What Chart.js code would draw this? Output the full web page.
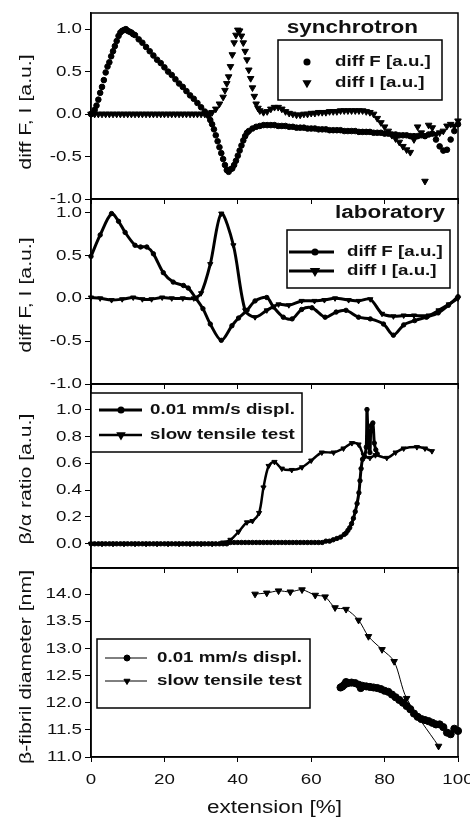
<!DOCTYPE html>
<html>
<head>
<meta charset="utf-8">
<script src="https://cdn.jsdelivr.net/npm/chart.js@4.4.1/dist/chart.umd.min.js"></script>
<style>
  body { margin: 0; background: #fff; }
  #wrap { position: relative; width: 470px; height: 819px; overflow: hidden; }
  .panel { position: absolute; left: 0; width: 470px; }
</style>
</head>
<body>
<div id="wrap">
  <div class="panel" style="top:0px"><canvas id="p1" width="470" height="211"></canvas></div>
  <div class="panel" style="top:187px"><canvas id="p2" width="470" height="209"></canvas></div>
  <div class="panel" style="top:372px"><canvas id="p3" width="470" height="208"></canvas></div>
  <div class="panel" style="top:556px"><canvas id="p4" width="470" height="263"></canvas></div>
</div>
<script>
// shared x axis
const xTicks = [0, 20, 40, 60, 80, 100];

// panel 1 - synchrotron
const synTicks = [-1.0, -0.5, 0.0, 0.5, 1.0];
const synDiffF = [
  [0,0],[0.5,0.01],[1,0.05],[1.5,0.1],[2,0.17],[2.5,0.25],[3,0.32],[3.5,0.4],[4,0.49],[4.5,0.56],
  [5,0.61],[5.5,0.68],[6,0.74],[6.5,0.8],[7,0.86],[7.5,0.92],[8,0.96],[8.5,0.98],[9,0.99],[9.5,1.0],
  [10,0.98],[10.5,0.97],[11,0.96],[11.5,0.94],[12,0.93],[13,0.88],[14,0.84],[15,0.79],[16,0.74],[17,0.69],
  [18,0.64],[19,0.6],[20,0.55],[21,0.5],[22,0.46],[23,0.41],[24,0.36],[25,0.32],[26,0.27],[27,0.22],
  [28,0.18],[29,0.13],[30,0.08],[31,0.03],[32,-0.02],[32.5,-0.07],[33,-0.12],[33.5,-0.18],[34,-0.25],[34.5,-0.32],
  [35,-0.39],[35.5,-0.46],[36,-0.53],[36.5,-0.6],[37,-0.66],[37.5,-0.68],[38,-0.65],[38.5,-0.64],[39,-0.6],[39.5,-0.55],
  [40,-0.49],[40.5,-0.43],[41,-0.37],[41.5,-0.31],[42,-0.26],[42.5,-0.22],[43,-0.2],[44,-0.17],[45,-0.15],[46,-0.14],
  [47,-0.13],[48,-0.13],[49,-0.13],[50,-0.13],[51,-0.14],[52,-0.14],[53,-0.14],[54,-0.15],[55,-0.15],[56,-0.16],
  [57,-0.16],[58,-0.16],[59,-0.17],[60,-0.17],[61,-0.17],[62,-0.18],[63,-0.18],[64,-0.18],[65,-0.19],[66,-0.19],
  [67,-0.19],[68,-0.19],[69,-0.2],[70,-0.2],[71,-0.2],[72,-0.2],[73,-0.21],[74,-0.21],[75,-0.21],[76,-0.21],
  [77,-0.22],[78,-0.22],[79,-0.22],[80,-0.23],[81,-0.23],[82,-0.24],[83,-0.24],[84,-0.25],[85,-0.25],[86,-0.25],
  [87,-0.26],[88,-0.26],[89,-0.26],[90,-0.25],[91,-0.26],[92,-0.24],[93,-0.23],[94,-0.3],[95,-0.38],[96,-0.43],
  [97,-0.42],[98,-0.3],[99,-0.2],[100,-0.12]
];
const synDiffI = [
  [0,0],[1,0],[2,0],[3,0],[4,0],[5,0],[6,0],[7,0],[8,0],[9,0],[10,0],[11,0],[12,0],[13,0],[14,0],[15,0],
  [16,0],[17,0],[18,0],[19,0],[20,0],[21,0],[22,0],[23,0],[24,0],[25,0],[26,0],[27,0],[28,0],[29,0],[30,0],[31,0],
  [32,0.01],[33,0.02],[34,0.06],[35,0.12],[36,0.2],[36.5,0.28],[37,0.36],[37.5,0.44],[38,0.56],[38.5,0.7],
  [39,0.84],[39.5,0.93],[40,0.99],[40.5,0.98],[41,0.92],[41.5,0.84],[42,0.74],[42.5,0.64],[43,0.52],[43.5,0.42],
  [44,0.31],[44.5,0.21],[45,0.12],[45.5,0.07],[46,0.04],[47,0.02],[48,0.03],[49,0.06],[50,0.08],[51,0.08],
  [52,0.06],[53,0.03],[54,0.01],[55,0.0],[56,-0.01],[57,-0.01],[58,0.0],[59,0.0],[60,0.01],[61,0.01],
  [62,0.02],[63,0.02],[64,0.02],[65,0.03],[66,0.03],[67,0.03],[68,0.04],[69,0.04],[70,0.04],[71,0.04],
  [72,0.04],[73,0.04],[74,0.04],[75,0.03],[76,0.02],[77,0.0],[78,-0.05],[79,-0.1],[80,-0.15],[81,-0.2],
  [82,-0.25],[83,-0.29],[84,-0.33],[85,-0.38],[86,-0.42],[87,-0.45],[88,-0.3],[89,-0.15],[90,-0.22],[91,-0.79],
  [92,-0.13],[93,-0.16],[94,-0.24],[95,-0.22],[96,-0.2],[97,-0.14],[98,-0.12],[99,-0.14],[100,-0.08]
];

// panel 2 - laboratory
const labTicks = [-1.0, -0.5, 0.0, 0.5, 1.0];
const labDiffF = [
  [0,0.49],[2.5,0.74],[5.6,0.99],[7.5,0.9],[9.3,0.77],[12,0.62],[13.5,0.6],[15.2,0.6],[17,0.52],[19.7,0.3],
  [22.4,0.19],[25.2,0.15],[26.5,0.12],[28.6,0.0],[30.5,-0.12],[32.5,-0.3],[35.5,-0.49],[38.4,-0.32],[40.2,-0.23],[42.5,-0.14],
  [44.7,-0.03],[47.9,0.01],[49.7,-0.1],[52.4,-0.22],[54.8,-0.24],[57.4,-0.13],[60.2,-0.11],[63.8,-0.22],[66.8,-0.16],[69.5,-0.14],
  [72.9,-0.22],[76.1,-0.24],[79.7,-0.3],[82.4,-0.43],[85.2,-0.31],[88.2,-0.26],[91.4,-0.22],[94.6,-0.17],[97.4,-0.08],[100,0.02]
];
const labDiffI = [
  [0,0.01],[2.5,0.0],[5.6,-0.02],[8.5,-0.01],[11.5,0.01],[14,-0.01],[16.5,-0.01],[19.4,0.01],[22,0.0],[25,0.0],
  [28,0.0],[30,0.06],[32.5,0.4],[35.5,0.99],[38.8,0.62],[42,-0.14],[44.7,-0.22],[47.9,-0.14],[51.1,-0.07],[53.9,-0.08],
  [57.4,-0.03],[60.9,-0.03],[63.6,-0.02],[66.5,0.0],[70.2,-0.02],[72.9,-0.03],[76.1,-0.01],[79.3,-0.18],[82.4,-0.21],[85.2,-0.2],
  [88,-0.2],[92,-0.2],[94.7,-0.14],[97.5,-0.07],[100,0.0]
];

// panel 3 - beta/alpha ratio
const ratioTicks = [0.0, 0.2, 0.4, 0.6, 0.8, 1.0];
const ratioDispl = [
  [0,0],[1,0],[2,0],[3,0],[4,0],[5,0],[6,0],[7,0],[8,0],[9,0],[10,0],[11,0],[12,0],[13,0],[14,0],[15,0],
  [16,0],[17,0],[18,0],[19,0],[20,0],[21,0],[22,0],[23,0],[24,0],[25,0],[26,0],[27,0],[28,0],[29,0],[30,0],
  [31,0],[32,0],[33,0],[34,0],[35,0],[36,0],[37,0],[38,0.01],[39,0.01],[40,0.01],[41,0.01],[42,0.01],[43,0.01],
  [44,0.01],[45,0.01],[46,0.01],[47,0.01],[48,0.01],[49,0.01],[50,0.01],[51,0.01],[52,0.01],[53,0.01],[54,0.01],
  [55,0.01],[56,0.01],[57,0.01],[58,0.01],[59,0.01],[60,0.01],[61,0.01],[62,0.01],[63,0.01],[64,0.02],[65,0.02],
  [66,0.03],[67,0.04],[68,0.05],[69,0.07],[69.5,0.08],[70,0.1],[70.5,0.12],[71,0.15],[71.5,0.19],[72,0.24],
  [72.5,0.3],[73,0.38],[73.3,0.47],[73.6,0.56],[74,0.63],[74.5,0.65],[75,0.72],[75.2,1.0],[75.5,0.8],[76,0.68],
  [76.3,0.88],[76.8,0.9],[77.2,0.75],[77.6,0.7],[78,0.67]
];
const ratioSlow = [
  [0,0],[3,0],[6,0],[9,0],[12,0],[15,0],[18,0],[21,0],[24,0],[27,0],[30,0],[33,0],[36,0.01],[38,0.03],
  [40.2,0.09],[42.5,0.16],[44,0.17],[45.8,0.23],[47,0.42],[48.4,0.58],[50,0.61],[52,0.56],[54.7,0.55],[57.5,0.57],
  [60,0.62],[62.9,0.68],[66.1,0.68],[68.8,0.71],[71.1,0.75],[72.9,0.74],[74.3,0.66],[76,0.64],[77.5,0.66],[80.6,0.64],
  [83,0.68],[85.2,0.71],[88.8,0.72],[91,0.71],[92.9,0.69]
];

// panel 4 - beta-fibril diameter
const diamTicks = [11.0, 11.5, 12.0, 12.5, 13.0, 13.5, 14.0];
const diamDispl = [
  [68,12.28],[68.5,12.3],[69,12.33],[69.5,12.38],[70,12.36],[71,12.37],[72,12.36],[73,12.33],[73.5,12.27],[74,12.31],
  [75,12.3],[76,12.29],[77,12.28],[78,12.27],[79,12.25],[80,12.22],[81,12.2],[82,12.15],[83,12.1],[84,12.05],
  [85,12.0],[86,11.94],[87,11.88],[88,11.8],[89,11.74],[90,11.7],[91,11.68],[92,11.66],[93,11.63],[94,11.6],
  [95,11.6],[96,11.55],[97,11.45],[98,11.42],[99,11.52],[100,11.48]
];
const diamSlow = [
  [44.7,14.0],[47.9,14.02],[51.1,14.06],[54.3,14.04],[57.5,14.08],[61.1,13.98],[63.8,13.95],[66.5,13.75],
  [69.5,13.72],[72.9,13.52],[75.6,13.22],[79.3,12.98],[82.6,12.76],[86,12.08],[94.7,11.2]
];

const FAMILY = '"Liberation Sans", Arial, sans-serif';
const STRETCH = 1.25;

function pts(arr) {
  return arr.map(p => ({ x: p[0], y: p[1] }));
}

function stretchText(ctx, text, x, y, font, align, vertical) {
  ctx.save();
  ctx.translate(x, y);
  if (vertical) ctx.rotate(-Math.PI / 2);
  ctx.scale(STRETCH, 1);
  ctx.font = font;
  ctx.fillStyle = '#111';
  ctx.textAlign = align;
  ctx.textBaseline = 'middle';
  ctx.fillText(text, 0, 0);
  ctx.restore();
}

// frame, tick labels, titles and boxed legend
const panelPlugin = {
  id: 'panel',
  afterDraw(chart, args, opts) {
    const ctx = chart.ctx;
    const a = chart.chartArea;
    const top = opts.top;
    ctx.save();
    ctx.strokeStyle = '#000';
    ctx.lineWidth = 1.5;
    ctx.strokeRect(a.left, a.top, a.right - a.left, a.bottom - a.top);

    const ys = chart.scales.y;
    ys.ticks.forEach(t => {
      stretchText(ctx, t.value.toFixed(1), 82, ys.getPixelForValue(t.value), '15px ' + FAMILY, 'right');
    });
    if (opts.xLabels) {
      const xs = chart.scales.x;
      xs.ticks.forEach(t => {
        stretchText(ctx, String(t.value), xs.getPixelForValue(t.value), 780 - top, '15px ' + FAMILY, 'center');
      });
      stretchText(ctx, 'extension [%]', (a.left + a.right) / 2, 808 - top, '18px ' + FAMILY, 'center');
    }
    stretchText(ctx, opts.yTitle, 26, opts.yTitleY - top, '17px ' + FAMILY, 'center', true);

    if (opts.header) {
      stretchText(ctx, opts.header.text, opts.header.x, opts.header.y - top, 'bold 18px ' + FAMILY, 'right');
    }

    const lg = opts.legend;
    if (lg) {
      const b = lg.box;
      ctx.fillStyle = '#fff';
      ctx.fillRect(b[0], b[1] - top, b[2] - b[0], b[3] - b[1]);
      ctx.strokeStyle = '#000';
      ctx.lineWidth = 1.5;
      ctx.strokeRect(b[0], b[1] - top, b[2] - b[0], b[3] - b[1]);
      lg.rows.forEach(r => {
        const ds = chart.data.datasets[r.ds];
        const y = r.y - top;
        if (lg.lineX) {
          ctx.strokeStyle = '#000';
          ctx.lineWidth = ds.borderWidth;
          ctx.beginPath();
          ctx.moveTo(lg.lineX[0], y);
          ctx.lineTo(lg.lineX[1], y);
          ctx.stroke();
        }
        ctx.fillStyle = '#000';
        ctx.strokeStyle = '#000';
        Chart.helpers.drawPoint(ctx, {
          pointStyle: ds.pointStyle,
          rotation: ds.rotation || 0,
          radius: r.radius || ds.pointRadius,
          borderWidth: 1
        }, lg.markerX, y);
        stretchText(ctx, ds.label, lg.textX, y, 'bold 15px ' + FAMILY, 'left');
      });
    }
    ctx.restore();
  }
};

function makeOptions(cfg) {
  return {
    responsive: false,
    animation: false,
    layout: { padding: { top: cfg.padTop, right: 12, left: 0, bottom: 0 } },
    plugins: {
      legend: { display: false },
      tooltip: { enabled: false },
      panel: cfg
    },
    scales: {
      x: {
        type: 'linear',
        min: 0,
        max: 100,
        afterBuildTicks: s => { s.ticks = xTicks.map(v => ({ value: v })); },
        afterFit: s => { s.height = cfg.xHeight; },
        ticks: { display: false },
        grid: { drawOnChartArea: false, drawTicks: true, tickLength: 5, color: '#000', lineWidth: 1 },
        border: { display: true, color: '#000', width: 1.5 }
      },
      y: {
        type: 'linear',
        min: cfg.yMin,
        max: cfg.yMax,
        afterBuildTicks: s => { s.ticks = cfg.yTicks.map(v => ({ value: v })); },
        afterFit: s => { s.width = 91; },
        ticks: { display: false },
        grid: { drawOnChartArea: false, drawTicks: true, tickLength: 6, color: '#000', lineWidth: 1 },
        border: { display: true, color: '#000', width: 1.5 }
      }
    }
  };
}

function series(label, data, style, radius, lineWidth, showLine) {
  return {
    label: label,
    data: pts(data),
    showLine: showLine,
    borderColor: '#000',
    backgroundColor: '#000',
    borderWidth: lineWidth,
    pointStyle: style,
    rotation: style === 'triangle' ? 180 : 0,
    pointRadius: radius,
    pointBorderWidth: 1,
    pointBackgroundColor: '#000',
    pointBorderColor: '#000',
    tension: showLine ? 0.3 : 0,
    clip: 6
  };
}

new Chart(document.getElementById('p1'), {
  type: 'scatter',
  data: {
    datasets: [
      series('diff F [a.u.]', synDiffF, 'circle', 2.8, 1, false),
      series('diff I [a.u.]', synDiffI, 'triangle', 3.8, 1, false)
    ]
  },
  options: makeOptions({
    top: 0, padTop: 13, xHeight: 12,
    yMin: -1.0, yMax: 1.19, yTicks: synTicks,
    yTitle: 'diff F, I [a.u.]', yTitleY: 112,
    header: { text: 'synchrotron', x: 418, y: 28 },
    legend: { box: [278, 40, 442, 100], lineX: null, markerX: 307, textX: 335,
              rows: [{ ds: 0, y: 62 }, { ds: 1, y: 83 }] }
  }),
  plugins: [panelPlugin]
});

new Chart(document.getElementById('p2'), {
  type: 'scatter',
  data: {
    datasets: [
      series('diff F [a.u.]', labDiffF, 'circle', 2.2, 3, true),
      series('diff I [a.u.]', labDiffI, 'triangle', 3, 3, true)
    ]
  },
  options: makeOptions({
    top: 187, padTop: 12, xHeight: 12,
    yMin: -1.0, yMax: 1.16, yTicks: labTicks,
    yTitle: 'diff F, I [a.u.]', yTitleY: 295,
    header: { text: 'laboratory', x: 445, y: 213 },
    legend: { box: [287, 230, 450, 288], lineX: [289, 334], markerX: 315, textX: 347,
              rows: [{ ds: 0, y: 252, radius: 2 }, { ds: 1, y: 271, radius: 3 }] }
  }),
  plugins: [panelPlugin]
});

new Chart(document.getElementById('p3'), {
  type: 'scatter',
  data: {
    datasets: [
      series('0.01 mm/s displ.', ratioDispl, 'circle', 2.2, 3, true),
      series('slow tensile test', ratioSlow, 'triangle', 3, 2.5, true)
    ]
  },
  options: makeOptions({
    top: 372, padTop: 12, xHeight: 12,
    yMin: -0.18, yMax: 1.19, yTicks: ratioTicks,
    yTitle: 'β/α ratio [a.u.]', yTitleY: 479,
    legend: { box: [91, 393, 302, 452], lineX: [99, 142], markerX: 121, textX: 150,
              rows: [{ ds: 0, y: 410, radius: 2 }, { ds: 1, y: 435, radius: 3 }] }
  }),
  plugins: [panelPlugin]
});

new Chart(document.getElementById('p4'), {
  type: 'scatter',
  data: {
    datasets: [
      series('0.01 mm/s displ.', diamDispl, 'circle', 3.6, 1, true),
      series('slow tensile test', diamSlow, 'triangle', 3.8, 1, true)
    ]
  },
  options: makeOptions({
    top: 556, padTop: 12, xHeight: 62,
    yMin: 11.0, yMax: 14.48, yTicks: diamTicks, xLabels: true,
    yTitle: 'β-fibril diameter [nm]', yTitleY: 667,
    legend: { box: [97, 639, 310, 708], lineX: [105, 147], markerX: 127, textX: 157,
              rows: [{ ds: 0, y: 658, radius: 3 }, { ds: 1, y: 681, radius: 3.5 }] }
  }),
  plugins: [panelPlugin]
});
</script>
</body>
</html>
